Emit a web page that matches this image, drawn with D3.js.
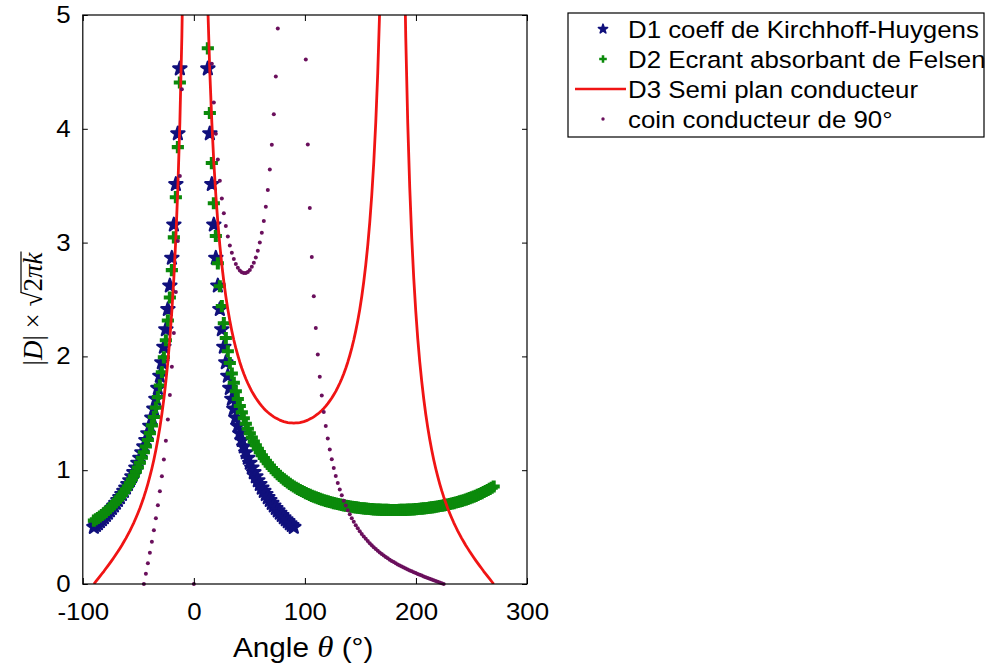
<!DOCTYPE html>
<html>
<head>
<meta charset="utf-8">
<script src="https://cdn.jsdelivr.net/npm/d3@7"></script>
<style>
  html, body { margin: 0; padding: 0; background: #fff; }
  svg { display: block; }
</style>
</head>
<body>
<svg id="chart" width="986" height="666"></svg>
<script>
// Observation angles (degrees), sampled every 1.8 degrees from -90 to 270.
const angleGrid = [
  -90, -88.2, -86.4, -84.6, -82.8, -81, -79.2, -77.4, -75.6, -73.8,
  -72, -70.2, -68.4, -66.6, -64.8, -63, -61.2, -59.4, -57.6, -55.8,
  -54, -52.2, -50.4, -48.6, -46.8, -45, -43.2, -41.4, -39.6, -37.8,
  -36, -34.2, -32.4, -30.6, -28.8, -27, -25.2, -23.4, -21.6, -19.8,
  -18, -16.2, -14.4, -12.6, -10.8, -9, -7.2, -5.4, -3.6, -1.8,
  0, 1.8, 3.6, 5.4, 7.2, 9, 10.8, 12.6, 14.4, 16.2,
  18, 19.8, 21.6, 23.4, 25.2, 27, 28.8, 30.6, 32.4, 34.2,
  36, 37.8, 39.6, 41.4, 43.2, 45, 46.8, 48.6, 50.4, 52.2,
  54, 55.8, 57.6, 59.4, 61.2, 63, 64.8, 66.6, 68.4, 70.2,
  72, 73.8, 75.6, 77.4, 79.2, 81, 82.8, 84.6, 86.4, 88.2,
  90, 91.8, 93.6, 95.4, 97.2, 99, 100.8, 102.6, 104.4, 106.2,
  108, 109.8, 111.6, 113.4, 115.2, 117, 118.8, 120.6, 122.4, 124.2,
  126, 127.8, 129.6, 131.4, 133.2, 135, 136.8, 138.6, 140.4, 142.2,
  144, 145.8, 147.6, 149.4, 151.2, 153, 154.8, 156.6, 158.4, 160.2,
  162, 163.8, 165.6, 167.4, 169.2, 171, 172.8, 174.6, 176.4, 178.2,
  180, 181.8, 183.6, 185.4, 187.2, 189, 190.8, 192.6, 194.4, 196.2,
  198, 199.8, 201.6, 203.4, 205.2, 207, 208.8, 210.6, 212.4, 214.2,
  216, 217.8, 219.6, 221.4, 223.2, 225, 226.8, 228.6, 230.4, 232.2,
  234, 235.8, 237.6, 239.4, 241.2, 243, 244.8, 246.6, 248.4, 250.2,
  252, 253.8, 255.6, 257.4, 259.2, 261, 262.8, 264.6, 266.4, 268.2,
  270
];

// D1: Kirchhoff-Huygens coefficient, angles -90..90 (first 101 grid angles).
const d1Kirchhoff = [
  0.500, 0.516, 0.532, 0.550, 0.567, 0.585, 0.604, 0.624, 0.645, 0.666,
  0.688, 0.711, 0.736, 0.761, 0.788, 0.816, 0.845, 0.877, 0.910, 0.944,
  0.981, 1.021, 1.063, 1.107, 1.155, 1.207, 1.263, 1.323, 1.389, 1.460,
  1.539, 1.625, 1.721, 1.828, 1.947, 2.083, 2.237, 2.414, 2.621, 2.865,
  3.157, 3.513, 3.958, 4.529, null, null, null, null, null, null,
  null, null, null, null, null, null, null, 4.529, 3.958, 3.513,
  3.157, 2.865, 2.621, 2.414, 2.237, 2.083, 1.947, 1.828, 1.721, 1.625,
  1.539, 1.460, 1.389, 1.323, 1.263, 1.207, 1.155, 1.107, 1.063, 1.021,
  0.981, 0.944, 0.910, 0.877, 0.845, 0.816, 0.788, 0.761, 0.736, 0.711,
  0.688, 0.666, 0.645, 0.624, 0.604, 0.585, 0.567, 0.550, 0.532, 0.516,
  0.500
];

// D2: Felsen absorbing screen, full grid.
const d2Felsen = [
  0.557, 0.569, 0.580, 0.593, 0.606, 0.620, 0.634, 0.650, 0.666, 0.683,
  0.701, 0.720, 0.740, 0.761, 0.783, 0.807, 0.832, 0.859, 0.888, 0.919,
  0.951, 0.987, 1.024, 1.065, 1.109, 1.157, 1.208, 1.265, 1.326, 1.394,
  1.468, 1.550, 1.642, 1.745, 1.861, 1.992, 2.142, 2.316, 2.518, 2.758,
  3.046, 3.399, 3.839, 4.407, null, null, null, null, null, null,
  null, null, null, null, null, null, null, 4.707, 4.139, 3.699,
  3.346, 3.058, 2.818, 2.616, 2.442, 2.292, 2.161, 2.045, 1.942, 1.850,
  1.768, 1.694, 1.626, 1.565, 1.508, 1.457, 1.409, 1.365, 1.324, 1.287,
  1.251, 1.219, 1.188, 1.159, 1.132, 1.107, 1.083, 1.061, 1.040, 1.020,
  1.001, 0.983, 0.966, 0.950, 0.934, 0.920, 0.906, 0.893, 0.880, 0.868,
  0.857, 0.846, 0.836, 0.826, 0.817, 0.808, 0.799, 0.791, 0.783, 0.775,
  0.768, 0.761, 0.755, 0.748, 0.742, 0.736, 0.731, 0.726, 0.721, 0.716,
  0.711, 0.707, 0.703, 0.699, 0.695, 0.691, 0.688, 0.685, 0.681, 0.679,
  0.676, 0.673, 0.671, 0.668, 0.666, 0.664, 0.662, 0.661, 0.659, 0.658,
  0.656, 0.655, 0.654, 0.653, 0.652, 0.652, 0.651, 0.651, 0.650, 0.650,
  0.650, 0.650, 0.650, 0.651, 0.651, 0.652, 0.652, 0.653, 0.654, 0.655,
  0.656, 0.658, 0.659, 0.661, 0.662, 0.664, 0.666, 0.668, 0.671, 0.673,
  0.676, 0.679, 0.681, 0.685, 0.688, 0.691, 0.695, 0.699, 0.703, 0.707,
  0.711, 0.716, 0.721, 0.726, 0.731, 0.736, 0.742, 0.748, 0.755, 0.761,
  0.768, 0.775, 0.783, 0.791, 0.799, 0.808, 0.817, 0.826, 0.836, 0.846,
  0.857
];

// D3: conducting half-plane, full grid (values past 5 leave the frame).
const d3HalfPlane = [
  0, 0.022, 0.045, 0.067, 0.090, 0.112, 0.136, 0.159, 0.183, 0.208,
  0.233, 0.259, 0.285, 0.313, 0.341, 0.371, 0.401, 0.434, 0.467, 0.503,
  0.540, 0.580, 0.622, 0.666, 0.714, 0.765, 0.820, 0.880, 0.945, 1.015,
  1.092, 1.177, 1.272, 1.376, 1.494, 1.628, 1.780, 1.955, 2.159, 2.401,
  2.690, 3.044, 3.485, 4.054, 4.811, 5.871, null, null, null, null,
  null, null, null, null, null, null, 5.815, 5.060, 4.493, 4.054,
  3.702, 3.416, 3.177, 2.976, 2.804, 2.656, 2.527, 2.413, 2.313, 2.224,
  2.144, 2.072, 2.008, 1.949, 1.896, 1.848, 1.804, 1.764, 1.727, 1.693,
  1.663, 1.634, 1.609, 1.585, 1.563, 1.543, 1.525, 1.509, 1.494, 1.481,
  1.469, 1.458, 1.449, 1.440, 1.433, 1.427, 1.423, 1.419, 1.416, 1.415,
  1.414, 1.415, 1.416, 1.419, 1.423, 1.427, 1.433, 1.440, 1.449, 1.458,
  1.469, 1.481, 1.494, 1.509, 1.525, 1.543, 1.563, 1.585, 1.609, 1.634,
  1.663, 1.693, 1.727, 1.764, 1.804, 1.848, 1.896, 1.949, 2.008, 2.072,
  2.144, 2.224, 2.313, 2.413, 2.527, 2.656, 2.804, 2.976, 3.177, 3.416,
  3.702, 4.054, 4.493, 5.060, 5.815, null, null, null, null, null,
  null, null, null, null, null, 5.871, 4.811, 4.054, 3.485, 3.044,
  2.690, 2.401, 2.159, 1.955, 1.780, 1.628, 1.494, 1.376, 1.272, 1.177,
  1.092, 1.015, 0.945, 0.880, 0.820, 0.765, 0.714, 0.666, 0.622, 0.580,
  0.540, 0.503, 0.467, 0.434, 0.401, 0.371, 0.341, 0.313, 0.285, 0.259,
  0.233, 0.208, 0.183, 0.159, 0.136, 0.112, 0.090, 0.067, 0.045, 0.022,
  0
];

// D4: 90-degree conducting wedge, angles -45..225 (grid indices 25..175).
const d4Wedge = [
  0, 0.090, 0.182, 0.275, 0.372, 0.472, 0.578, 0.692, 0.814, 0.947,
  1.095, 1.259, 1.445, 1.660, 1.909, 2.206, 2.566, 3.013, 3.586, 4.347,
  null, null, null, null, null, 0, null, null, null, null,
  null, null, null, null, 4.571, 4.231, 3.956, 3.731, 3.544, 3.388,
  3.257, 3.146, 3.053, 2.975, 2.910, 2.856, 2.813, 2.780, 2.755, 2.739,
  2.732, 2.733, 2.742, 2.760, 2.787, 2.823, 2.870, 2.929, 3.000, 3.087,
  3.190, 3.314, 3.463, 3.643, 3.860, 4.127, 4.460, 4.882, null, null,
  null, null, null, null, null, null, null, null, null, null,
  null, 4.610, 3.863, 3.305, 2.873, 2.529, 2.249, 2.017, 1.822, 1.656,
  1.512, 1.388, 1.278, 1.182, 1.096, 1.019, 0.950, 0.887, 0.831, 0.779,
  0.732, 0.689, 0.649, 0.612, 0.578, 0.547, 0.517, 0.490, 0.464, 0.440,
  0.418, 0.397, 0.377, 0.358, 0.340, 0.323, 0.307, 0.292, 0.277, 0.264,
  0.250, 0.238, 0.226, 0.214, 0.203, 0.193, 0.182, 0.172, 0.163, 0.153,
  0.144, 0.136, 0.127, 0.119, 0.111, 0.103, 0.096, 0.088, 0.081, 0.074,
  0.067, 0.060, 0.053, 0.046, 0.039, 0.033, 0.026, 0.020, 0.013, 0.006,
  0
];

const xTicks = [-100, 0, 100, 200, 300];
const yTicks = [0, 1, 2, 3, 4, 5];
const legendLabels = [
  "D1 coeff de Kirchhoff-Huygens",
  "D2 Ecrant absorbant de Felsen",
  "D3 Semi plan conducteur",
  "coin conducteur de 90°"
];

// ---- styling ----
const FONT = "'Liberation Sans', Arial, Helvetica, sans-serif";
const MATH = "'Liberation Serif', 'Times New Roman', serif";
const STRETCH = 1.1;
const BLUE = "#10107c";
const GREEN = "#0b8a0b";
const RED = "#f01414";
const PURPLE = "#6a0f5c";

const svg = d3.select("#chart");
const x = d3.scaleLinear().domain([-100, 300]).range([82.8, 527]);
const y = d3.scaleLinear().domain([0, 5]).range([584, 15]);
const [x0, x1] = x.range();
const [yb, yt] = y.range();

svg.append("defs").append("clipPath").attr("id", "plot-clip")
  .append("rect")
  .attr("x", x0).attr("y", yt)
  .attr("width", x1 - x0).attr("height", yb - yt);

const toPoints = (angles, values) =>
  values.map((v, i) => ({ a: angles[i], v })).filter(d => d.v !== null);
const inFrame = d => d.v >= 0 && d.v <= 5;

const starPath = d3.symbol().type(d3.symbolStar).size(54)();
const crossPath = d3.symbol().type(d3.symbolCross).size(82)();
const starLegend = d3.symbol().type(d3.symbolStar).size(26)();
const crossLegend = d3.symbol().type(d3.symbolCross).size(32)();

const plot = svg.append("g");

// D1 markers
plot.append("g")
  .selectAll("path")
  .data(toPoints(angleGrid.slice(0, 101), d1Kirchhoff).filter(inFrame))
  .join("path")
  .attr("d", starPath)
  .attr("transform", d => `translate(${x(d.a)},${y(d.v)})`)
  .attr("fill", BLUE)
  .attr("stroke", BLUE)
  .attr("stroke-width", 2.3)
  .attr("stroke-linejoin", "round");

// D2 markers
plot.append("g")
  .selectAll("path")
  .data(toPoints(angleGrid, d2Felsen).filter(inFrame))
  .join("path")
  .attr("d", crossPath)
  .attr("transform", d => `translate(${x(d.a)},${y(d.v)})`)
  .attr("fill", GREEN);

// D3 line
const line = d3.line()
  .defined(d => d.v !== null)
  .x(d => x(d.a))
  .y(d => y(d.v));
plot.append("path")
  .datum(angleGrid.map((a, i) => ({ a, v: d3HalfPlane[i] })))
  .attr("clip-path", "url(#plot-clip)")
  .attr("d", line)
  .attr("fill", "none")
  .attr("stroke", RED)
  .attr("stroke-width", 2.8)
  .attr("stroke-linejoin", "round");

// D4 dots
plot.append("g")
  .selectAll("circle")
  .data(toPoints(angleGrid.slice(25, 176), d4Wedge).filter(inFrame))
  .join("circle")
  .attr("cx", d => x(d.a))
  .attr("cy", d => y(d.v))
  .attr("r", 2)
  .attr("fill", PURPLE);

// ---- axes ----
const styleTicks = g => {
  g.select(".domain").remove();
  g.selectAll(".tick line").attr("stroke", "#000").attr("stroke-width", 1);
  g.selectAll(".tick text")
    .attr("font-family", FONT)
    .attr("font-size", 23.5)
    .attr("fill", "#000")
    .attr("transform", `scale(${STRETCH},1)`);
};

svg.append("g")
  .attr("transform", `translate(0,${yb})`)
  .call(d3.axisBottom(x).tickValues(xTicks).tickSizeInner(-6).tickSizeOuter(0)
    .tickPadding(19).tickFormat(d => String(d)))
  .call(styleTicks);

svg.append("g")
  .attr("transform", `translate(0,${yt})`)
  .call(d3.axisTop(x).tickValues(xTicks).tickSizeInner(-6).tickSizeOuter(0).tickFormat(""))
  .call(styleTicks);

svg.append("g")
  .attr("transform", `translate(${x0},0)`)
  .call(d3.axisLeft(y).tickValues(yTicks).tickSizeInner(-5).tickSizeOuter(0)
    .tickPadding(11).tickFormat(d => String(d)))
  .call(styleTicks);

svg.append("g")
  .attr("transform", `translate(${x1},0)`)
  .call(d3.axisRight(y).tickValues(yTicks).tickSizeInner(-5).tickSizeOuter(0).tickFormat(""))
  .call(styleTicks);

svg.append("rect")
  .attr("x", x0).attr("y", yt)
  .attr("width", x1 - x0).attr("height", yb - yt)
  .attr("fill", "none")
  .attr("stroke", "#000")
  .attr("stroke-width", 1.2);

// ---- axis titles ----
const xTitle = svg.append("text")
  .attr("transform", `translate(233,657) scale(${STRETCH},1)`)
  .attr("font-family", FONT)
  .attr("font-size", 27)
  .attr("fill", "#000");
xTitle.append("tspan").text("Angle ");
xTitle.append("tspan").attr("font-family", MATH).attr("font-style", "italic").attr("font-size", 30).text("θ");
xTitle.append("tspan").text(" (°)");

const yTitleG = svg.append("g").attr("transform", "translate(42,309) rotate(-90)");
const yTitle = yTitleG.append("text")
  .attr("font-family", MATH)
  .attr("font-size", 27)
  .attr("text-anchor", "middle")
  .attr("fill", "#000");
yTitle.append("tspan").text("|");
yTitle.append("tspan").attr("font-style", "italic").text("D");
yTitle.append("tspan").text("| × √");
yTitle.append("tspan").text("2");
yTitle.append("tspan").attr("font-style", "italic").text("πk");
{
  const node = yTitle.node();
  const start = node.getEndPositionOfChar(6).x - 1;
  const end = node.getEndPositionOfChar(9).x + 1;
  yTitleG.append("line")
    .attr("x1", start).attr("x2", end)
    .attr("y1", -21).attr("y2", -21)
    .attr("stroke", "#000").attr("stroke-width", 1.2);
}

// ---- legend ----
const legend = svg.append("g");
legend.append("rect")
  .attr("x", 568).attr("y", 13)
  .attr("width", 416).attr("height", 124)
  .attr("fill", "#fff")
  .attr("stroke", "#000")
  .attr("stroke-width", 1.2);

const rowY = i => 29 + i * 30;
legend.append("path").attr("d", starLegend)
  .attr("transform", `translate(603,${rowY(0)})`)
  .attr("fill", BLUE).attr("stroke", BLUE).attr("stroke-width", 1.6)
  .attr("stroke-linejoin", "round");
legend.append("path").attr("d", crossLegend)
  .attr("transform", `translate(603,${rowY(1)})`)
  .attr("fill", GREEN);
legend.append("line")
  .attr("x1", 575).attr("x2", 626)
  .attr("y1", rowY(2)).attr("y2", rowY(2))
  .attr("stroke", RED).attr("stroke-width", 2.7);
legend.append("circle")
  .attr("cx", 603).attr("cy", rowY(3)).attr("r", 1.7)
  .attr("fill", PURPLE);

legend.selectAll("text.label")
  .data(legendLabels)
  .join("text")
  .attr("class", "label")
  .attr("transform", (d, i) => `translate(628,${rowY(i) + 8.5}) scale(${STRETCH},1)`)
  .attr("font-family", FONT)
  .attr("font-size", 23.5)
  .attr("fill", "#000")
  .text(d => d);
</script>
</body>
</html>
